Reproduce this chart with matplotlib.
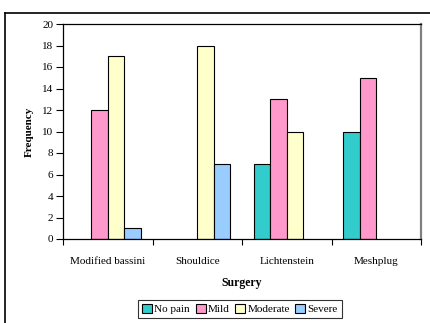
import numpy as np
import matplotlib
matplotlib.use("Agg")
import matplotlib.pyplot as plt
from matplotlib.lines import Line2D

plt.rcParams['font.family'] = ['Liberation Serif', 'DejaVu Serif']

# data
surgeries = ["Modified bassini", "Shouldice", "Lichtenstein", "Meshplug"]
pain_levels = ["No pain", "Mild", "Moderate", "Severe"]
no_pain = [0, 0, 7, 10]
mild = [12, 0, 13, 15]
moderate = [17, 18, 10, 0]
severe = [1, 7, 0, 0]
colors = ["#33CCCC", "#FF99CC", "#FFFFCC", "#99CCFF"]

fig = plt.figure(figsize=(4.31, 3.23), dpi=100)
ax = fig.add_axes([63/431, 1 - 239/323, 358/431, 215/323])

x = np.arange(len(surgeries))
w = 0.183
series = [no_pain, mild, moderate, severe]
for i, vals in enumerate(series):
    # Excel skips zero-height bars, keep them out too
    v = np.array(vals, dtype=float)
    mask = v > 0
    ax.bar(x[mask] + (i - 1.5) * w, v[mask], width=w, color=colors[i],
           edgecolor="black", linewidth=0.8, label=pain_levels[i])

ax.set_xlim(-0.5, len(surgeries) - 0.5)
ax.set_ylim(0, 20)
ax.set_yticks(range(0, 21, 2))
ax.set_xticks(x)
ax.set_xticklabels(surgeries, fontsize=8)
ax.set_xticks(np.arange(-0.5, len(surgeries)), minor=True)
ax.tick_params(axis="x", which="major", length=0, pad=13)
ax.tick_params(axis="x", which="minor", length=4, width=0.8, direction="out")
ax.tick_params(axis="y", length=5, width=0.8, direction="out", labelsize=8, pad=2)

for s in ["left", "bottom", "top"]:
    ax.spines[s].set_color("black")
    ax.spines[s].set_linewidth(0.9)
ax.spines["right"].set_color("#808080")
ax.spines["right"].set_linewidth(1.6)

ax.set_ylabel("Frequency", fontsize=8, fontweight="bold", labelpad=6)
ax.set_xlabel("Surgery", fontsize=8.5, fontweight="bold", labelpad=8)

leg = ax.legend(loc="center", bbox_to_anchor=(240/431, 1 - 309/323),
                bbox_transform=fig.transFigure, ncol=4, fontsize=8,
                frameon=True, fancybox=False, edgecolor="black",
                handlelength=0.9, handleheight=0.9, handletextpad=0.2,
                columnspacing=0.5, borderpad=0.35, borderaxespad=0)
leg.get_frame().set_linewidth(0.8)

# outer chart-area frame (cropped at right and bottom in the reference)
fx0 = 5.5 / 431
fy1 = 1 - 12.5 / 323
fig.add_artist(Line2D([fx0, 1.0], [fy1, fy1], transform=fig.transFigure,
                      color="black", linewidth=1.2))
fig.add_artist(Line2D([fx0, fx0], [0, fy1], transform=fig.transFigure,
                      color="black", linewidth=1.2))

fig.savefig("out.png", dpi=100)
